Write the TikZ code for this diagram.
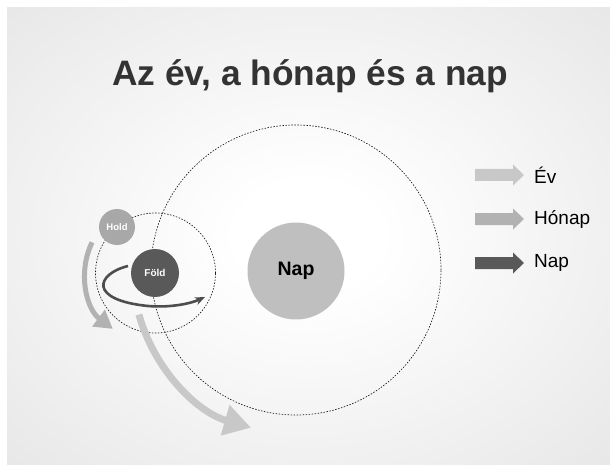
\documentclass[tikz,border=0pt]{standalone}
\usepackage{fontspec}
\setmainfont{Liberation Sans}
\usetikzlibrary{arrows.meta}
\definecolor{bggray}{HTML}{DCDCDC}
\definecolor{titlegray}{HTML}{333333}
\definecolor{sungray}{HTML}{BFBFBF}
\definecolor{earthgray}{HTML}{595959}
\definecolor{moongray}{HTML}{A8A8A8}
\definecolor{yeargray}{HTML}{C8C8C8}
\definecolor{monthgray}{HTML}{B2B2B2}
\definecolor{daygray}{HTML}{4D4D4D}
\pgfdeclareradialshading{bgshade}{\pgfpointorigin}{color(0bp)=(white); color(6bp)=(white); color(50bp)=(bggray); color(75bp)=(bggray)}
\tikzset{
  orbit/.style={circle, draw=black!90, line width=0.65pt, dash pattern=on 1.5pt off 1.5pt, inner sep=0pt},
  body/.style={circle, inner sep=0pt},
  yeararrow/.style={draw=yeargray, line width=7pt, -{Triangle[length=27pt,width=30pt]}},
  montharrow/.style={draw=monthgray, line width=5pt, -{Triangle[length=18pt,width=20pt]}},
  dayarrow/.style={draw=daygray, line width=2.6pt, -{Stealth[length=10pt,width=8pt]}},
  legendtext/.style={anchor=west, inner sep=0pt, font=\fontsize{19}{22}\selectfont, text=black}
}
\begin{document}
\begin{tikzpicture}[x=1pt,y=-1pt]
\useasboundingbox (0,0) rectangle (610,465);
\fill[white] (0,0) rectangle (610,465);
\shade[shading=bgshade] (7,8) rectangle (610,465);

% title
\node[anchor=base, inner sep=0pt, text=titlegray, font=\bfseries\fontsize{35.3}{40}\selectfont] (title) at (310,86) {Az év, a hónap és a nap};

% orbits
\node[orbit, minimum size=290pt] (yearorbit) at (296,270) {};
\node[orbit, minimum size=120pt] (monthorbit) at (155.5,273) {};

% sun
\node[body, fill=sungray, minimum size=97pt, font=\bfseries\fontsize{19.5}{22}\selectfont] (sun) at (296,271) {Nap};

% year arrow
\draw[yeararrow] ([shift={(164.5:163)}]sun.center) arc[start angle=164.5, end angle=106, radius=163];

% earth position coordinate
\coordinate (ec) at (155,273);
% month arrow
\draw[montharrow] ([shift={(206:70)}]ec) arc[start angle=206, end angle=127, radius=70];

% day arrow
\draw[dayarrow] (128,266) .. controls (96,274) and (88,300) .. (148,306) .. controls (172,308) and (192,303) .. (205,297);

% earth and moon
\node[body, fill=earthgray, minimum size=48pt, text=white, font=\bfseries\fontsize{10}{12}\selectfont] (earth) at (ec) {Föld};
\node[body, fill=moongray, minimum size=36pt, text=white, font=\bfseries\fontsize{9.5}{11}\selectfont] (moon) at (117,227) {Hold};

% legend
\fill[yeargray] (475,169) -- (513,169) -- (513,164.5) -- (524,175) -- (513,185.5) -- (513,181) -- (475,181) -- cycle;
\fill[monthgray] (475,213) -- (513,213) -- (513,208.5) -- (524,219) -- (513,229.5) -- (513,225) -- (475,225) -- cycle;
\fill[earthgray] (475,257) -- (513,257) -- (513,252.5) -- (524,263) -- (513,273.5) -- (513,269) -- (475,269) -- cycle;
\node[legendtext] (lev) at (534,175) {Év};
\node[legendtext] (lhonap) at (534,219) {Hónap};
\node[legendtext] (lnap) at (534,263) {Nap};
\end{tikzpicture}
\end{document}
